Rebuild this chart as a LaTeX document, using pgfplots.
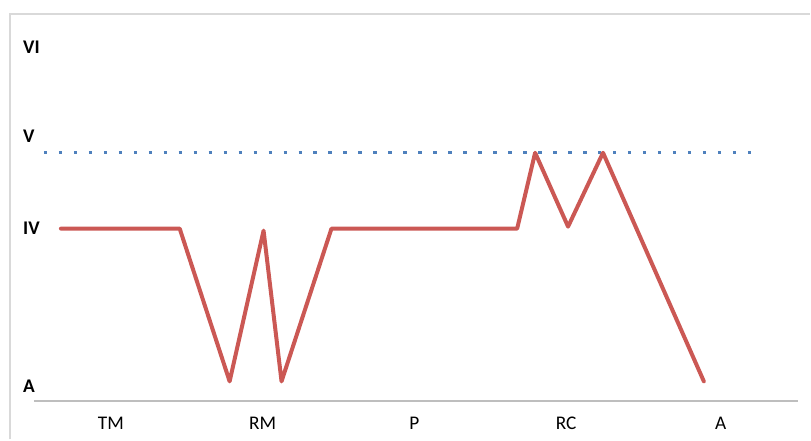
\documentclass[border=0pt]{standalone}
\usepackage{pgfplots}
\pgfplotsset{compat=1.18}
\usepackage{fontspec}
\setmainfont{Carlito}
\definecolor{redline}{RGB}{203,88,84}
\definecolor{blueline}{RGB}{79,129,189}
\definecolor{frame}{RGB}{217,217,217}
\definecolor{axisgray}{RGB}{190,190,190}
\begin{document}
\begin{tikzpicture}
\begin{axis}[
  scale only axis, width=608.25pt, height=330pt,
  xmin=0, xmax=811, ymin=0, ymax=440, y dir=reverse,
  axis lines=none, clip=false,
]
% bounding area
\path (axis cs:0,0) (axis cs:811,440);
% frame and baseline
\draw[frame, line width=2pt] (axis cs:10,440) -- (axis cs:10,14) -- (axis cs:811,14);
\draw[axisgray, line width=1.5pt] (axis cs:34,402) -- (axis cs:799,402);
% reference dotted line (level V)
\addplot[blueline, line width=2.6pt, dash pattern=on 2.6pt off 8.65pt, forget plot]
  coordinates {(44,153) (757,153)};
% red profile
\addplot[redline, line width=3pt, line join=round, line cap=round, forget plot]
  coordinates {
  (61,229) (180,229) (230,382) (264,231) (282,382) (332,229)
  (518,229) (536,153) (569,227) (604,153) (705,382)
  };
% y labels
\foreach \lab/\yy in {VI/54, V/143, IV/235, A/393}{
  \edef\tmp{\noexpand\node[anchor=base west, inner sep=0pt, font=\noexpand\fontsize{14.5}{16}\noexpand\selectfont\noexpand\bfseries] at (axis cs:23,\yy) {\lab};}
  \tmp
}
% x labels
\foreach \lab/\xx in {TM/111, RM/263, P/415, RC/567, A/722}{
  \edef\tmp{\noexpand\node[anchor=base, inner sep=0pt, font=\noexpand\fontsize{14.5}{16}\noexpand\selectfont] at (axis cs:\xx,430) {\lab};}
  \tmp
}
\end{axis}
\end{tikzpicture}
\end{document}
